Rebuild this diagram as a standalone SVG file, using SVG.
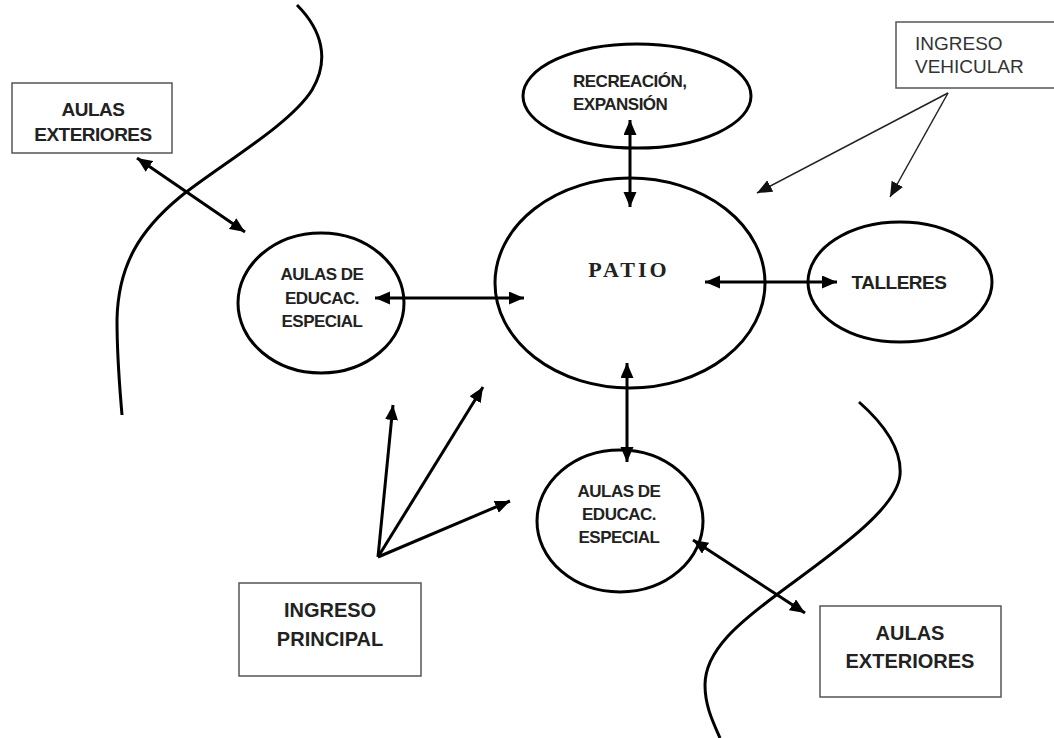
<svg xmlns="http://www.w3.org/2000/svg" width="1054" height="738" viewBox="0 0 1054 738">
<defs>
<marker id="ah" markerUnits="userSpaceOnUse" markerWidth="16" markerHeight="14" refX="15" refY="6.5" orient="auto-start-reverse"><path d="M0,0 L15,6.5 L0,13 z" fill="#000"/></marker>
<marker id="ahs" markerUnits="userSpaceOnUse" markerWidth="16" markerHeight="14" refX="15" refY="6.5" orient="auto"><path d="M0,0 L15,6.5 L0,13 z" fill="#111"/></marker>
<style>
.el{fill:#fff;stroke:#000;stroke-width:3}
.bx{fill:#fff;stroke:#555;stroke-width:1.5}
.t{font-family:"Liberation Sans",Arial,sans-serif;font-weight:bold;fill:#222}
.c{letter-spacing:-0.5px}
.tn{font-family:"Liberation Sans",Arial,sans-serif;fill:#333}
.ar{stroke:#000;stroke-width:3;fill:none}
.ar2{stroke:#222;stroke-width:1.5;fill:none}
.cv{stroke:#000;stroke-width:3;fill:none}
</style>
</defs>
<rect width="1054" height="738" fill="#fff"/>
<g id="boundaries">
<path class="cv" d="M297,5 C322,30 330,60 312,90 C290,125 220,165 180,197 C140,230 118,265 117,320 C117,360 120,390 122,415"/>
<path class="cv" d="M859,402 C885,425 902,450 900,475 C897,510 830,555 779,593 C740,622 705,650 705,685 C705,705 712,720 720,738"/>
</g>
<g id="node-patio">
<ellipse class="el" cx="630" cy="283" rx="135" ry="105"/>
<text x="629" y="277" text-anchor="middle" font-family="Liberation Serif,Times New Roman,serif" font-weight="bold" font-size="22" letter-spacing="3" fill="#222">PATIO</text>
</g>
<g id="node-recreacion">
<ellipse class="el" cx="637" cy="96" rx="114" ry="52"/>
<text class="t c" x="573" y="87" font-size="17">RECREACIÓN,</text>
<text class="t c" x="573" y="110" font-size="17">EXPANSIÓN</text>
</g>
<g id="node-aulas-izq">
<ellipse class="el" cx="321" cy="303" rx="83" ry="70"/>
<text class="t c" x="322" y="280" font-size="17" text-anchor="middle">AULAS DE</text>
<text class="t c" x="322" y="304" font-size="17" text-anchor="middle">EDUCAC.</text>
<text class="t c" x="322" y="327" font-size="17" text-anchor="middle">ESPECIAL</text>
</g>
<g id="node-talleres">
<ellipse class="el" cx="900" cy="282" rx="92" ry="60"/>
<text class="t c" x="899" y="289" font-size="19" text-anchor="middle">TALLERES</text>
</g>
<g id="node-aulas-abajo">
<ellipse class="el" cx="620" cy="521" rx="83" ry="71"/>
<text class="t c" x="619" y="497" font-size="17" text-anchor="middle">AULAS DE</text>
<text class="t c" x="619" y="520" font-size="17" text-anchor="middle">EDUCAC.</text>
<text class="t c" x="619" y="543" font-size="17" text-anchor="middle">ESPECIAL</text>
</g>
<g id="node-aulas-ext-1">
<rect class="bx" x="12" y="83" width="160" height="70"/>
<text class="t c" x="93" y="116" font-size="19" text-anchor="middle">AULAS</text>
<text class="t c" x="93" y="141" font-size="19" text-anchor="middle">EXTERIORES</text>
</g>
<g id="node-ingreso-vehicular">
<rect class="bx" x="896" y="22" width="170" height="66"/>
<text class="tn" x="915" y="50" font-size="19">INGRESO</text>
<text class="tn" x="915" y="73" font-size="19">VEHICULAR</text>
</g>
<g id="node-ingreso-principal">
<rect class="bx" x="239" y="583" width="182" height="93"/>
<text class="t" x="330" y="617" font-size="20" text-anchor="middle">INGRESO</text>
<text class="t" x="330" y="646" font-size="20" text-anchor="middle">PRINCIPAL</text>
</g>
<g id="node-aulas-ext-2">
<rect class="bx" x="820" y="606" width="181" height="91"/>
<text class="t" x="910" y="640" font-size="20" text-anchor="middle">AULAS</text>
<text class="t" x="910" y="668" font-size="20" text-anchor="middle">EXTERIORES</text>
</g>
<g id="connectors">
<line class="ar" x1="137" y1="158" x2="245" y2="232" marker-start="url(#ah)" marker-end="url(#ah)"/>
<line class="ar" x1="375" y1="298" x2="524" y2="298" marker-start="url(#ah)" marker-end="url(#ah)"/>
<line class="ar" x1="630" y1="120" x2="630" y2="207" marker-start="url(#ah)" marker-end="url(#ah)"/>
<line class="ar" x1="705" y1="282" x2="837" y2="282" marker-start="url(#ah)" marker-end="url(#ah)"/>
<line class="ar" x1="627" y1="363" x2="627" y2="462" marker-start="url(#ah)" marker-end="url(#ah)"/>
<line class="ar" x1="693" y1="540" x2="805" y2="613" marker-start="url(#ah)" marker-end="url(#ah)"/>
<line class="ar" x1="378" y1="557" x2="393" y2="405" marker-end="url(#ah)"/>
<line class="ar" x1="378" y1="557" x2="483" y2="387" marker-end="url(#ah)"/>
<line class="ar" x1="378" y1="557" x2="510" y2="501" marker-end="url(#ah)"/>
<line class="ar2" x1="948" y1="93" x2="757" y2="193" marker-end="url(#ahs)"/>
<line class="ar2" x1="948" y1="93" x2="890" y2="197" marker-end="url(#ahs)"/>
</g>
</svg>
